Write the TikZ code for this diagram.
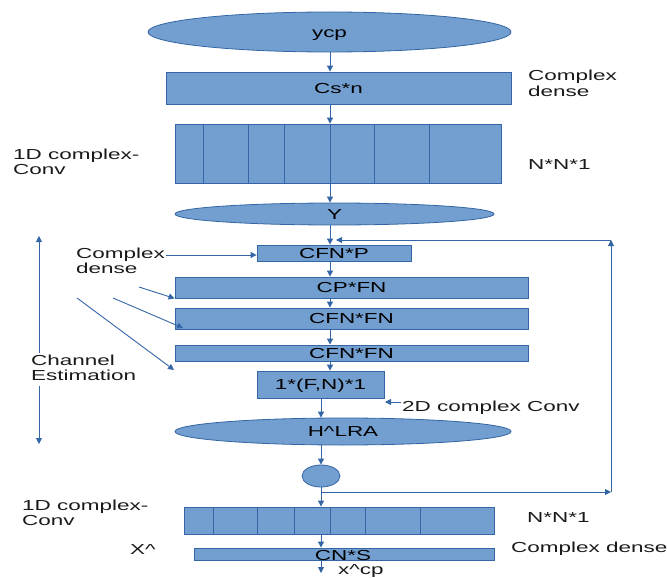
\documentclass[tikz,border=0pt]{standalone}
\usepackage{fontspec}
\setmainfont{Liberation Sans}
\usepackage{graphicx}
\usetikzlibrary{arrows.meta,shapes.geometric,calc}
\definecolor{bfill}{HTML}{729FCF}
\definecolor{bord}{HTML}{3465A4}
\definecolor{txt}{HTML}{1A1A1A}
\newcommand\ws[1]{\scalebox{1.55}[1]{#1}}
\newcommand\wl[2]{\scalebox{1.55}[1]{\begin{tabular}{@{}l@{}}#1\\#2\end{tabular}}}
\tikzset{
  boxst/.style={rectangle, draw=bord, fill=bfill, line width=0.8pt, inner sep=0pt, text height=10.5pt, text depth=0pt},
  ellst/.style={ellipse, draw=bord, fill=bfill, line width=0.8pt, inner sep=0pt, text height=10.5pt, text depth=0pt},
  lab/.style={inner sep=0pt, anchor=west, align=left, text=txt},
  arr/.style={draw=bord, line width=0.9pt, -{Triangle[length=6pt,width=6pt]}},
  dline/.style={draw=bord, line width=0.8pt}
}
\begin{document}
\begin{tikzpicture}[x=1pt,y=-1pt,font=\fontsize{14.5}{15}\selectfont]
\useasboundingbox (0,0) rectangle (667,578);
\coordinate (ax) at (330,0);
\coordinate (bx) at (321,0);
% top part
\node[ellst, minimum width=363pt, minimum height=40pt] (ycp) at (329.5,32) {\ws{ycp}};
\node[boxst, minimum width=345pt, minimum height=32pt] (csn) at (338.5,88) {\ws{Cs*n}};
\node[boxst, minimum width=326pt, minimum height=59pt] (conv1) at (338,153.5) {};
\foreach \xx in {203,248,284,374,429} \draw[dline] (\xx,0 |- conv1.north) -- (\xx,0 |- conv1.south);
\node[ellst, minimum width=319pt, minimum height=22pt] (Y) at (334.5,214) {\ws{Y}};
% channel estimation
\node[boxst, minimum width=154pt, minimum height=16pt] (cfnp) at (334,253) {\ws{CFN*P}};
\node[boxst, minimum width=353pt, minimum height=21pt] (cpfn) at (351.5,287.5) {\ws{CP*FN}};
\node[boxst, minimum width=353pt, minimum height=21pt] (cfnfn1) at (351.5,318.5) {\ws{CFN*FN}};
\node[boxst, minimum width=353pt, minimum height=16pt] (cfnfn2) at (351.5,353) {\ws{CFN*FN}};
\node[boxst, minimum width=127pt, minimum height=27pt] (conv2d) at (320.5,384.5) {\ws{1*(F,N)*1}};
\node[ellst, minimum width=336pt, minimum height=27pt] (hlra) at (343,431.5) {\ws{H\^{}LRA}};
\node[ellst, minimum width=38pt, minimum height=22pt] (circ) at (321,476) {};
% bottom part
\node[boxst, minimum width=310pt, minimum height=27pt] (conv3) at (339,520.5) {};
\foreach \xx in {213,257,294,330,365,420} \draw[dline] (\xx,0 |- conv3.north) -- (\xx,0 |- conv3.south);
\node[boxst, minimum width=300pt, minimum height=12pt] (cns) at (344,554) {};
\node[inner sep=0pt, text height=10.5pt, text depth=0pt] (cnst) at (343,555) {\ws{CN*S}};
% labels
\node[lab] (cdr1) at (528,85.5) {\wl{Complex}{dense}};
\node[lab] (nn1) at (528,165) {\ws{N*N*1}};
\node[lab] (c1d1) at (13,163.5) {\wl{1D complex-}{Conv}};
\node[lab] (cdl) at (76,262.5) {\wl{Complex}{dense}};
\node[lab] (c2d) at (402,408) {\ws{2D complex Conv}};
\node[lab] (c1d2) at (22,515) {\wl{1D complex-}{Conv}};
\node[lab] (nn2) at (527,518) {\ws{N*N*1}};
\node[lab] (xh) at (130,550) {\ws{X\^{}}};
\node[lab] (cdr2) at (511,549) {\ws{Complex dense}};
\node[lab] (xcp) at (338,571) {\ws{x\^{}cp}};
% main flow arrows
\draw[arr] (ax |- ycp.south) -- (ax |- csn.north);
\draw[arr] (ax |- csn.south) -- (ax |- conv1.north);
\draw[arr] (ax |- conv1.north) -- (ax |- Y.north);
\draw[arr] (ax |- Y.south) -- (ax |- cfnp.north);
\draw[arr] (ax |- cfnp.south) -- (ax |- cpfn.north);
\draw[arr] (ax |- cpfn.south) -- (ax |- cfnfn1.north);
\draw[arr] (ax |- cfnfn1.south) -- (ax |- cfnfn2.north);
\draw[arr] (ax |- cfnfn2.south) -- (ax |- conv2d.north);
\draw[arr] (bx |- conv2d.south) -- (bx |- hlra.north);
\draw[arr] (bx |- hlra.south) -- (bx |- circ.north);
\draw[arr] (bx |- circ.south) -- (bx |- conv3.north);
\draw[arr] (bx |- conv3.south) -- (bx |- cns.north);
\coordinate (out) at (321,573);
\draw[arr] (bx |- cns.south) -- (out);
% feedback
\coordinate (fj) at (321,492);
\coordinate (fr) at (611,492);
\coordinate (ft) at (611,240);
\coordinate (fe) at (336,240);
\draw[arr] (fj) -- (fr);
\draw[arr] (fr) -- (ft);
\draw[arr] (ft) -- (fe);
% channel estimation span
\coordinate (ce1) at (39,236);
\coordinate (ce2) at (39,444);
\draw[draw=bord, line width=0.9pt, {Triangle[length=6pt,width=6pt]}-{Triangle[length=6pt,width=6pt]}] (ce1) -- (ce2);
\node[lab, fill=white, inner sep=1pt] (ce) at (30,369.5) {\wl{Channel}{Estimation}};
% complex dense pointers
\coordinate (cda) at (166,255);
\draw[arr] (cda) -- (cda -| cfnp.west);
\coordinate (d1s) at (139,287);
\coordinate (d2s) at (113,298);
\coordinate (d2e) at (183,328);
\coordinate (d3s) at (77,298);
\coordinate (d3e) at (174,370);
\draw[arr] (d1s) -- (cpfn.south west);
\draw[arr] (d2s) -- (d2e);
\draw[arr] (d3s) -- (d3e);
% 2D conv pointer
\coordinate (c2a) at (401,402);
\coordinate (c2b) at (385,402);
\draw[arr] (c2a) -- (c2b);
\end{tikzpicture}
\end{document}
